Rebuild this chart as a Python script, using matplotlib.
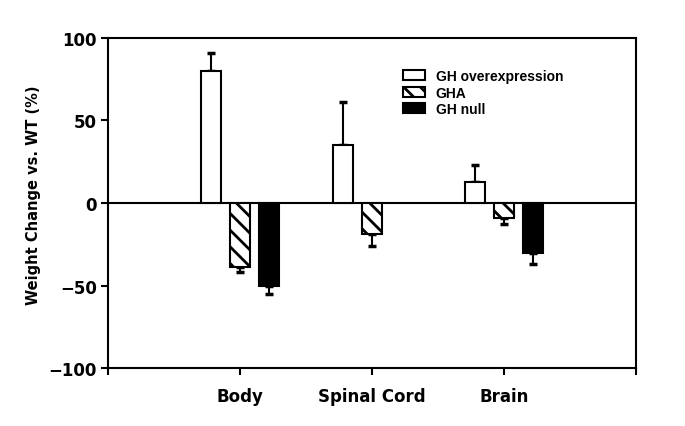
import matplotlib
matplotlib.use("Agg")
import matplotlib.pyplot as plt
import numpy as np

categories = ["Body", "Spinal Cord", "Brain"]
series_names = ["GH overexpression", "GHA", "GH null"]
gh_over = [80, 35, 13]
gh_over_err = [11, 26, 10]
gha = [-39, -19, -9]
gha_err = [3, 7, 4]
gh_null = [-50, np.nan, -30]
gh_null_err = [5, np.nan, 7]
yticks = [-100, -50, 0, 50, 100]

plt.rcParams['font.family'] = ['DejaVu Sans']
plt.rcParams['font.weight'] = 'bold'
plt.rcParams['hatch.linewidth'] = 2.0
plt.rcParams['hatch.color'] = 'black'

fig = plt.figure(figsize=(6.85, 4.27), dpi=100)
ax = fig.add_axes([0.1577, 0.1358, 0.7708, 0.7729])

x = np.arange(1, len(categories) + 1)
w = 0.155
off = 0.22
styles = [dict(facecolor='white', hatch=None),
          dict(facecolor='white', hatch='\\\\'),
          dict(facecolor='black', hatch=None)]
vals = [gh_over, gha, gh_null]
errs = [gh_over_err, gha_err, gh_null_err]

ax.axhline(0, color='black', lw=1.5, zorder=1)
handles = []
for i, (v, e, st) in enumerate(zip(vals, errs, styles)):
    v = np.array(v, dtype=float)
    e = np.array(e, dtype=float)
    pos = x + (i - 1) * off
    b = ax.bar(pos, v, width=w, facecolor=st['facecolor'], edgecolor='black',
               linewidth=1.5, hatch=st['hatch'], zorder=3, label=series_names[i])
    handles.append(b)
    lower = np.where(v < 0, e, 0)
    upper = np.where(v > 0, e, 0)
    ax.errorbar(pos, v, yerr=[lower, upper], fmt='none', ecolor='black',
                elinewidth=1.5, capsize=3, capthick=2.5, zorder=2)

ax.set_xlim(0, 4)
ax.set_ylim(-100, 100)
ax.set_xticks([0, 1, 2, 3, 4])
ax.set_xticklabels([""] + categories + [""], fontsize=12, fontweight='bold')
ax.set_yticks(yticks)
ax.set_yticklabels([str(t).replace('-', '\u2212') for t in yticks], fontsize=12, fontweight='bold')
ax.tick_params(axis='both', direction='out', length=5, width=1.5, pad=3)
ax.tick_params(axis='x', pad=9)
for s in ax.spines.values():
    s.set_linewidth(1.5)
ax.set_ylabel("Weight Change vs. WT (%)", fontsize=10.5, fontweight='bold')
ax.yaxis.set_label_coords(-0.127, 0.526)

leg = ax.legend(handles=handles, labels=series_names, loc='upper left',
                bbox_to_anchor=(0.559, 0.906), frameon=False,
                handlelength=1.6, handleheight=0.7, labelspacing=0.18,
                handletextpad=0.75, borderpad=0, borderaxespad=0,
                prop={'family': 'Liberation Sans', 'weight': 'bold', 'size': 10})

fig.savefig("out.png", dpi=100)
